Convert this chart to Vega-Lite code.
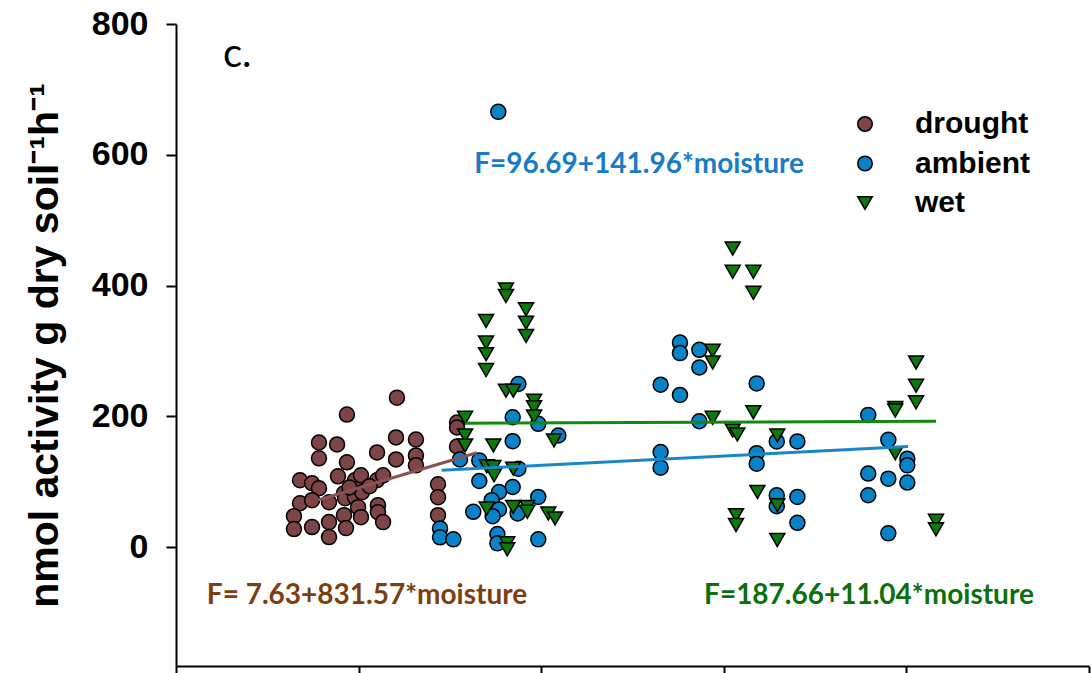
{
  "$schema": "https://vega.github.io/schema/vega-lite/v6.json",
  "width": 913,
  "height": 642,
  "autosize": {"type": "none"},
  "padding": {"left": 176, "top": 24, "right": 3, "bottom": 7},
  "background": "white",
  "config": {
    "view": {"stroke": null},
    "axis": {"grid": false, "domainColor": "black", "domainWidth": 2, "tickColor": "black", "tickWidth": 2, "tickSize": 10}
  },
  "datasets": {
    "points": [
      {"treatment":"drought","moisture":0.1210,"activity":228.5},
      {"treatment":"drought","moisture":0.0936,"activity":202.6},
      {"treatment":"drought","moisture":0.0783,"activity":159.9},
      {"treatment":"drought","moisture":0.0882,"activity":156.9},
      {"treatment":"drought","moisture":0.0783,"activity":135.6},
      {"treatment":"drought","moisture":0.0936,"activity":129.5},
      {"treatment":"drought","moisture":0.1101,"activity":144.7},
      {"treatment":"drought","moisture":0.1205,"activity":167.6},
      {"treatment":"drought","moisture":0.1205,"activity":134.0},
      {"treatment":"drought","moisture":0.1314,"activity":164.5},
      {"treatment":"drought","moisture":0.1314,"activity":140.1},
      {"treatment":"drought","moisture":0.1314,"activity":124.9},
      {"treatment":"drought","moisture":0.0679,"activity":102.1},
      {"treatment":"drought","moisture":0.0745,"activity":97.5},
      {"treatment":"drought","moisture":0.0783,"activity":89.9},
      {"treatment":"drought","moisture":0.0887,"activity":108.1},
      {"treatment":"drought","moisture":0.0980,"activity":102.1},
      {"treatment":"drought","moisture":0.1013,"activity":109.7},
      {"treatment":"drought","moisture":0.1101,"activity":102.1},
      {"treatment":"drought","moisture":0.1134,"activity":109.7},
      {"treatment":"drought","moisture":0.0679,"activity":67.0},
      {"treatment":"drought","moisture":0.0745,"activity":71.6},
      {"treatment":"drought","moisture":0.0838,"activity":68.5},
      {"treatment":"drought","moisture":0.0920,"activity":82.3},
      {"treatment":"drought","moisture":0.0926,"activity":74.6},
      {"treatment":"drought","moisture":0.0980,"activity":76.2},
      {"treatment":"drought","moisture":0.1019,"activity":83.8},
      {"treatment":"drought","moisture":0.1106,"activity":64.0},
      {"treatment":"drought","moisture":0.1106,"activity":53.3},
      {"treatment":"drought","moisture":0.0920,"activity":48.7},
      {"treatment":"drought","moisture":0.0997,"activity":60.9},
      {"treatment":"drought","moisture":0.1013,"activity":45.7},
      {"treatment":"drought","moisture":0.0646,"activity":47.2},
      {"treatment":"drought","moisture":0.0646,"activity":27.4},
      {"treatment":"drought","moisture":0.0745,"activity":30.5},
      {"treatment":"drought","moisture":0.0838,"activity":38.1},
      {"treatment":"drought","moisture":0.0931,"activity":28.9},
      {"treatment":"drought","moisture":0.1134,"activity":38.1},
      {"treatment":"drought","moisture":0.0838,"activity":15.2},
      {"treatment":"drought","moisture":0.1435,"activity":96.0},
      {"treatment":"drought","moisture":0.1435,"activity":76.2},
      {"treatment":"drought","moisture":0.1435,"activity":48.7},
      {"treatment":"drought","moisture":0.1539,"activity":190.4},
      {"treatment":"drought","moisture":0.1539,"activity":182.8},
      {"treatment":"drought","moisture":0.1539,"activity":153.8},
      {"treatment":"drought","moisture":0.0950,"activity":91.0},
      {"treatment":"drought","moisture":0.1060,"activity":93.0},
      {"treatment":"ambient","moisture":0.1765,"activity":665.6},
      {"treatment":"ambient","moisture":0.1875,"activity":249.3},
      {"treatment":"ambient","moisture":0.1844,"activity":198.5},
      {"treatment":"ambient","moisture":0.1984,"activity":188.4},
      {"treatment":"ambient","moisture":0.2094,"activity":170.6},
      {"treatment":"ambient","moisture":0.1844,"activity":161.9},
      {"treatment":"ambient","moisture":0.1555,"activity":134.0},
      {"treatment":"ambient","moisture":0.1661,"activity":132.5},
      {"treatment":"ambient","moisture":0.1875,"activity":119.9},
      {"treatment":"ambient","moisture":0.1661,"activity":101.0},
      {"treatment":"ambient","moisture":0.1844,"activity":91.8},
      {"treatment":"ambient","moisture":0.1769,"activity":84.2},
      {"treatment":"ambient","moisture":0.1984,"activity":76.6},
      {"treatment":"ambient","moisture":0.1729,"activity":71.6},
      {"treatment":"ambient","moisture":0.1628,"activity":53.8},
      {"treatment":"ambient","moisture":0.1769,"activity":57.4},
      {"treatment":"ambient","moisture":0.1734,"activity":47.2},
      {"treatment":"ambient","moisture":0.1871,"activity":51.3},
      {"treatment":"ambient","moisture":0.1446,"activity":28.5},
      {"treatment":"ambient","moisture":0.1446,"activity":14.8},
      {"treatment":"ambient","moisture":0.1519,"activity":11.7},
      {"treatment":"ambient","moisture":0.1760,"activity":19.8},
      {"treatment":"ambient","moisture":0.1760,"activity":5.6},
      {"treatment":"ambient","moisture":0.1984,"activity":11.7},
      {"treatment":"ambient","moisture":0.2760,"activity":312.7},
      {"treatment":"ambient","moisture":0.2760,"activity":296.6},
      {"treatment":"ambient","moisture":0.2866,"activity":301.6},
      {"treatment":"ambient","moisture":0.2866,"activity":274.6},
      {"treatment":"ambient","moisture":0.2654,"activity":248.3},
      {"treatment":"ambient","moisture":0.2760,"activity":232.6},
      {"treatment":"ambient","moisture":0.3180,"activity":250.3},
      {"treatment":"ambient","moisture":0.2866,"activity":192.4},
      {"treatment":"ambient","moisture":0.2654,"activity":145.2},
      {"treatment":"ambient","moisture":0.2654,"activity":121.4},
      {"treatment":"ambient","moisture":0.3180,"activity":143.6},
      {"treatment":"ambient","moisture":0.3180,"activity":127.5},
      {"treatment":"ambient","moisture":0.3290,"activity":161.5},
      {"treatment":"ambient","moisture":0.3403,"activity":161.5},
      {"treatment":"ambient","moisture":0.3290,"activity":79.2},
      {"treatment":"ambient","moisture":0.3290,"activity":62.5},
      {"treatment":"ambient","moisture":0.3403,"activity":76.6},
      {"treatment":"ambient","moisture":0.3403,"activity":37.0},
      {"treatment":"ambient","moisture":0.3791,"activity":202.1},
      {"treatment":"ambient","moisture":0.3901,"activity":164.0},
      {"treatment":"ambient","moisture":0.4005,"activity":135.1},
      {"treatment":"ambient","moisture":0.4005,"activity":124.9},
      {"treatment":"ambient","moisture":0.3791,"activity":112.3},
      {"treatment":"ambient","moisture":0.3901,"activity":104.6},
      {"treatment":"ambient","moisture":0.4005,"activity":98.6},
      {"treatment":"ambient","moisture":0.3791,"activity":79.2},
      {"treatment":"ambient","moisture":0.3901,"activity":20.9},
      {"treatment":"wet","moisture":0.1807,"activity":394.0},
      {"treatment":"wet","moisture":0.1807,"activity":383.8},
      {"treatment":"wet","moisture":0.1917,"activity":363.6},
      {"treatment":"wet","moisture":0.1698,"activity":345.8},
      {"treatment":"wet","moisture":0.1917,"activity":343.2},
      {"treatment":"wet","moisture":0.1917,"activity":322.9},
      {"treatment":"wet","moisture":0.1698,"activity":312.7},
      {"treatment":"wet","moisture":0.1698,"activity":295.0},
      {"treatment":"wet","moisture":0.1698,"activity":270.7},
      {"treatment":"wet","moisture":0.1807,"activity":239.1},
      {"treatment":"wet","moisture":0.1847,"activity":239.1},
      {"treatment":"wet","moisture":0.1961,"activity":223.9},
      {"treatment":"wet","moisture":0.1961,"activity":213.7},
      {"treatment":"wet","moisture":0.1961,"activity":199.5},
      {"treatment":"wet","moisture":0.1583,"activity":197.6},
      {"treatment":"wet","moisture":0.1583,"activity":170.6},
      {"treatment":"wet","moisture":0.1583,"activity":155.4},
      {"treatment":"wet","moisture":0.1738,"activity":155.4},
      {"treatment":"wet","moisture":0.2070,"activity":163.0},
      {"treatment":"wet","moisture":0.1702,"activity":123.4},
      {"treatment":"wet","moisture":0.1738,"activity":122.3},
      {"treatment":"wet","moisture":0.1742,"activity":109.7},
      {"treatment":"wet","moisture":0.1847,"activity":119.9},
      {"treatment":"wet","moisture":0.1702,"activity":58.9},
      {"treatment":"wet","moisture":0.1847,"activity":61.4},
      {"treatment":"wet","moisture":0.1924,"activity":61.4},
      {"treatment":"wet","moisture":0.1924,"activity":53.8},
      {"treatment":"wet","moisture":0.2039,"activity":51.3},
      {"treatment":"wet","moisture":0.2076,"activity":43.7},
      {"treatment":"wet","moisture":0.1814,"activity":5.6},
      {"treatment":"wet","moisture":0.1814,"activity":-3.5},
      {"treatment":"wet","moisture":0.3049,"activity":456.5},
      {"treatment":"wet","moisture":0.3049,"activity":420.9},
      {"treatment":"wet","moisture":0.3162,"activity":420.9},
      {"treatment":"wet","moisture":0.3162,"activity":388.9},
      {"treatment":"wet","moisture":0.2939,"activity":300.1},
      {"treatment":"wet","moisture":0.2939,"activity":282.3},
      {"treatment":"wet","moisture":0.2939,"activity":197.6},
      {"treatment":"wet","moisture":0.3162,"activity":206.1},
      {"treatment":"wet","moisture":0.3049,"activity":178.2},
      {"treatment":"wet","moisture":0.3074,"activity":172.1},
      {"treatment":"wet","moisture":0.3293,"activity":170.6},
      {"treatment":"wet","moisture":0.3184,"activity":84.2},
      {"treatment":"wet","moisture":0.3293,"activity":64.0},
      {"treatment":"wet","moisture":0.3067,"activity":48.7},
      {"treatment":"wet","moisture":0.3067,"activity":33.5},
      {"treatment":"wet","moisture":0.3293,"activity":10.7},
      {"treatment":"wet","moisture":0.4053,"activity":282.3},
      {"treatment":"wet","moisture":0.4053,"activity":246.8},
      {"treatment":"wet","moisture":0.4053,"activity":221.3},
      {"treatment":"wet","moisture":0.3939,"activity":212.8},
      {"treatment":"wet","moisture":0.3939,"activity":208.7},
      {"treatment":"wet","moisture":0.3939,"activity":143.6},
      {"treatment":"wet","moisture":0.4162,"activity":40.1},
      {"treatment":"wet","moisture":0.4162,"activity":27.0}
    ],
    "fits": [
      {"treatment":"drought","moisture":0.0778,"activity":71.9},
      {"treatment":"drought","moisture":0.1647,"activity":144.2},
      {"treatment":"ambient","moisture":0.1455,"activity":117.3},
      {"treatment":"ambient","moisture":0.4009,"activity":153.6},
      {"treatment":"wet","moisture":0.1583,"activity":189.4},
      {"treatment":"wet","moisture":0.4162,"activity":192.3}
    ]
  },
  "encoding": {
    "x": {
      "field": "moisture", "type": "quantitative",
      "scale": {"domain": [0, 0.5], "nice": false, "zero": false},
      "axis": {"title": null, "labels": false, "values": [0, 0.1, 0.2, 0.3, 0.4, 0.5], "tickSize": 10}
    },
    "y": {
      "field": "activity", "type": "quantitative",
      "scale": {"domain": [-182, 800], "nice": false, "zero": false},
      "axis": {
        "title": "nmol activity g dry soil⁻¹h⁻¹",
        "values": [0, 200, 400, 600, 800],
        "labelFont": "Liberation Sans", "labelFontWeight": "bold", "labelFontSize": 34, "labelColor": "black",
        "labelPadding": 18,
        "titleFont": "Liberation Sans", "titleFontWeight": "bold", "titleFontSize": 41, "titleColor": "black",
        "titleX": -119, "titleBaseline": "alphabetic", "titleAngle": -90
      }
    }
  },
  "layer": [
    {
      "data": {"name": "points"},
      "mark": {"type": "point", "filled": true, "strokeWidth": 1.5, "size": 225, "opacity": 1},
      "encoding": {
        "fill": {
          "field": "treatment", "type": "nominal",
          "scale": {"domain": ["drought", "ambient", "wet"], "range": ["#7D4545", "#0A82C8", "#0B7A0B"]},
          "legend": {
            "title": null, "orient": "none", "legendX": 674, "legendY": 85, "padding": 0,
            "labelFont": "Liberation Sans", "labelFontWeight": "bold", "labelFontSize": 30, "labelColor": "black",
            "labelOffset": 35, "rowPadding": 9.5, "symbolSize": 210, "symbolStrokeWidth": 1.5
          }
        },
        "shape": {
          "field": "treatment", "type": "nominal",
          "scale": {"domain": ["drought", "ambient", "wet"], "range": ["circle", "circle", "triangle-down"]},
          "legend": {
            "title": null, "orient": "none", "legendX": 674, "legendY": 85, "padding": 0,
            "labelFont": "Liberation Sans", "labelFontWeight": "bold", "labelFontSize": 30, "labelColor": "black",
            "labelOffset": 35, "rowPadding": 9.5, "symbolSize": 210, "symbolStrokeWidth": 1.5
          }
        },
        "stroke": {
          "field": "treatment", "type": "nominal",
          "scale": {"domain": ["drought", "ambient", "wet"], "range": ["black", "black", "black"]},
          "legend": {
            "title": null, "orient": "none", "legendX": 674, "legendY": 85, "padding": 0,
            "labelFont": "Liberation Sans", "labelFontWeight": "bold", "labelFontSize": 30, "labelColor": "black",
            "labelOffset": 35, "rowPadding": 9.5, "symbolSize": 210, "symbolStrokeWidth": 1.5
          }
        }
      }
    },
    {
      "data": {"name": "fits"},
      "mark": {"type": "line", "strokeWidth": 3},
      "encoding": {
        "color": {
          "field": "treatment", "type": "nominal",
          "scale": {"domain": ["drought", "ambient", "wet"], "range": ["#8A5252", "#1A86C8", "#128A12"]},
          "legend": null
        }
      }
    },
    {
      "data": {"values": [{"moisture": 0.1046, "activity": -87, "label": "F= 7.63+831.57*moisture"}]},
      "mark": {"type": "text", "font": "Lato", "fontWeight": "bold", "fontSize": 28, "align": "center", "baseline": "alphabetic", "color": "#7B3F10"},
      "encoding": {"text": {"field": "label"}}
    },
    {
      "data": {"values": [{"moisture": 0.2536, "activity": 572, "label": "F=96.69+141.96*moisture"}]},
      "mark": {"type": "text", "font": "Lato", "fontWeight": "bold", "fontSize": 28, "align": "center", "baseline": "alphabetic", "color": "#1A7BC6"},
      "encoding": {"text": {"field": "label"}}
    },
    {
      "data": {"values": [{"moisture": 0.3795, "activity": -87, "label": "F=187.66+11.04*moisture"}]},
      "mark": {"type": "text", "font": "Lato", "fontWeight": "bold", "fontSize": 28, "align": "center", "baseline": "alphabetic", "color": "#0B700B"},
      "encoding": {"text": {"field": "label"}}
    },
    {
      "data": {"values": [{"moisture": 0.0257, "activity": 734, "label": "c."}]},
      "mark": {"type": "text", "font": "Lato", "fontSize": 40, "align": "left", "baseline": "alphabetic", "color": "black"},
      "encoding": {"text": {"field": "label"}}
    }
  ]
}
